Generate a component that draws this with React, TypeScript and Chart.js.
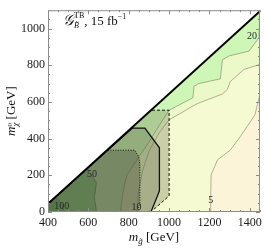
import React, { useEffect, useRef } from "react";
import { Chart, registerables } from "chart.js";
Chart.register(...registerables);

// axis ranges and ticks
const X_MIN = 400;
const X_MAX = 1450;
const Y_MIN = 0;
const Y_MAX = 1100;
const xTicks = [400, 600, 800, 1000, 1200, 1400];
const yTicks = [0, 200, 400, 600, 800, 1000];

// kinematic boundary (m_chi = m_gluino - 2 m_top)
const diagX = [400, 1450];
const diagY = [45, 1095];

// significance contours
const c5X = [1206, 1206, 1208, 1240, 1303, 1352, 1425, 1450];
const c5Y = [0, 78, 202, 285, 337, 410, 529, 643];

const c10X = [840, 850, 870, 900, 950, 1000, 1060, 1123, 1142, 1264, 1289, 1303, 1372, 1450];
const c10Y = [0, 120, 230, 330, 430, 503, 540, 581, 592, 643, 669, 711, 778, 804];

const c20X = [760, 770, 790, 850, 900, 950, 1000, 1045, 1118, 1123, 1147, 1254, 1264, 1298, 1396, 1445, 1450];
const c20Y = [0, 100, 200, 300, 380, 470, 555, 581, 623, 685, 700, 726, 830, 851, 877, 950, 1085];

const c50X = [640, 630, 640, 595];
const c50Y = [0, 80, 160, 235];

const c100X = [480, 470, 440];
const c100Y = [0, 40, 80];

// excluded regions
const dashedX = [915, 1000, 1000, 925];
const dashedY = [555, 555, 88, 15];
const dashedFillX = [400, 915, 1000, 1000, 925, 905, 400];
const dashedFillY = [45, 555, 555, 88, 15, 0, 0];

const solidX = [400, 817, 880, 952, 952, 910, 400, 400];
const solidY = [45, 457, 457, 350, 115, 0, 0, 45];

const dottedX = [697, 830, 850, 855, 855, 845];
const dottedY = [337, 337, 300, 260, 50, 0];
const dottedFillX = [400, 697, 830, 850, 855, 855, 845, 400];
const dottedFillY = [45, 337, 337, 300, 260, 50, 0, 0];

// contour labels
const labelText = ["20", "5", "10", "50", "100"];
const labelX = [1411, 1206, 839, 618, 468];
const labelY = [955, 62, 26, 205, 31];

const pts = (xs: number[], ys: number[]) => xs.map((x, i) => ({ x, y: ys[i] }));

// region left/above a contour which starts at the bottom edge
const regionFromBottom = (xs: number[], ys: number[], toCorner: boolean) => {
  const p = [{ x: X_MIN, y: 0 }, ...pts(xs, ys)];
  if (toCorner) p.push({ x: diagX[1], y: diagY[1] });
  p.push({ x: diagX[0], y: diagY[0] });
  return p;
};

const fillDs = (data: any[], color: string) => ({
  data,
  showLine: true,
  fill: "shape",
  backgroundColor: color,
  borderColor: "transparent",
  borderWidth: 0,
  pointRadius: 0,
  tension: 0,
});

const lineDs = (data: any[], color: string, width: number, dash: number[] = []) => ({
  data,
  showLine: true,
  fill: false,
  borderColor: color,
  borderWidth: width,
  borderDash: dash,
  pointRadius: 0,
  tension: 0,
});

const SERIF = "'Liberation Serif', 'DejaVu Serif', serif";

const drawRich = (ctx: CanvasRenderingContext2D, x: number, y: number, parts: any[]) => {
  let cx = x;
  let lastX = x;
  for (const p of parts) {
    ctx.font = p.font;
    const startX = p.sameX ? lastX : cx;
    ctx.fillText(p.t, startX, y + (p.dy || 0));
    const w = ctx.measureText(p.t).width;
    if (!p.sameX) lastX = cx;
    cx = Math.max(cx, startX + w);
  }
  return cx - x;
};

const measureRich = (ctx: CanvasRenderingContext2D, parts: any[]) => {
  let cx = 0;
  let lastX = 0;
  for (const p of parts) {
    ctx.font = p.font;
    const startX = p.sameX ? lastX : cx;
    const w = ctx.measureText(p.t).width;
    if (!p.sameX) lastX = cx;
    cx = Math.max(cx, startX + w);
  }
  return cx;
};

const decorPlugin = {
  id: "decor",
  afterDraw(chart: any) {
    const { ctx, chartArea: a, scales } = chart;
    const xs = scales.x;
    const ys = scales.y;
    ctx.save();
    // frame
    ctx.strokeStyle = "#8c8c8c";
    ctx.lineWidth = 1;
    ctx.strokeRect(a.left + 0.5, a.top + 0.5, a.right - a.left - 1, a.bottom - a.top - 1);
    // ticks inward
    ctx.beginPath();
    for (let v = X_MIN; v <= X_MAX; v += 50) {
      const px = Math.round(xs.getPixelForValue(v)) + 0.5;
      const len = v % 200 === 0 ? 4 : 2;
      ctx.moveTo(px, a.bottom);
      ctx.lineTo(px, a.bottom - len);
      ctx.moveTo(px, a.top);
      ctx.lineTo(px, a.top + len);
    }
    for (let v = Y_MIN; v <= Y_MAX; v += 50) {
      const py = Math.round(ys.getPixelForValue(v)) + 0.5;
      const len = v % 200 === 0 ? 4 : 2;
      ctx.moveTo(a.left, py);
      ctx.lineTo(a.left + len, py);
      ctx.moveTo(a.right, py);
      ctx.lineTo(a.right - len, py);
    }
    ctx.stroke();

    // contour labels
    ctx.fillStyle = "#2a2a2a";
    ctx.textAlign = "center";
    ctx.textBaseline = "middle";
    ctx.font = `10px ${SERIF}`;
    labelText.forEach((t, i) => {
      ctx.fillText(t, xs.getPixelForValue(labelX[i]), ys.getPixelForValue(labelY[i]));
    });

    // annotation
    ctx.textAlign = "left";
    ctx.textBaseline = "alphabetic";
    ctx.fillStyle = "#111";
    drawRich(ctx, 63, 25, [
      { t: "𝒢", font: `italic 15px ${SERIF}` },
      { t: "B̃", font: `italic 8px ${SERIF}`, dy: 3 },
      { t: "TB", font: `8px ${SERIF}`, dy: -7, sameX: true },
      { t: ", 15 fb", font: `13px ${SERIF}` },
      { t: "−1", font: `8px ${SERIF}`, dy: -6 },
    ]);

    // x axis title
    const xParts = [
      { t: "m", font: `italic 13px ${SERIF}` },
      { t: "g̃", font: `italic 9px ${SERIF}`, dy: 3 },
      { t: " [GeV]", font: `13px ${SERIF}` },
    ];
    const xw = measureRich(ctx, xParts);
    drawRich(ctx, (a.left + a.right) / 2 - xw / 2, 241, xParts);

    // y axis title
    const yParts = [
      { t: "m", font: `italic 13px ${SERIF}` },
      { t: "χ", font: `italic 9px ${SERIF}`, dy: 3 },
      { t: "0", font: `7px ${SERIF}`, dy: -3, sameX: true },
      { t: " [GeV]", font: `13px ${SERIF}` },
    ];
    const yw = measureRich(ctx, yParts);
    ctx.translate(15, (a.top + a.bottom) / 2);
    ctx.rotate(-Math.PI / 2);
    drawRich(ctx, -yw / 2, 0, yParts);
    ctx.restore();
  },
};

export default function App() {
  const ref = useRef<HTMLCanvasElement | null>(null);
  useEffect(() => {
    if (!ref.current) return;
    const datasets: any[] = [
      fillDs(pts([400, 1450, 1450, 400], [0, 0, 1095, 45]), "#fcf4d9"),
      fillDs(regionFromBottom(c5X, c5Y, true), "#f6fad3"),
      fillDs(regionFromBottom(c10X, c10Y, true), "#ebf8c8"),
      fillDs(regionFromBottom(c20X, c20Y, true), "#cdf6b7"),
      fillDs(regionFromBottom(c50X, c50Y, false), "#8cd884"),
      fillDs(regionFromBottom(c100X, c100Y, false), "#68c066"),
      lineDs(pts(c5X, c5Y), "rgba(120,120,95,0.7)", 0.8),
      lineDs(pts(c10X, c10Y), "rgba(120,120,95,0.7)", 0.8),
      lineDs(pts(c20X, c20Y), "rgba(120,120,95,0.7)", 0.8),
      lineDs(pts(c50X, c50Y), "rgba(60,70,50,0.7)", 0.8),
      lineDs(pts(c100X, c100Y), "rgba(60,70,50,0.7)", 0.8),
      fillDs(pts(dashedFillX, dashedFillY), "rgba(100,110,70,0.3)"),
      fillDs(pts(solidX, solidY), "rgba(90,100,70,0.3)"),
      fillDs(pts(dottedFillX, dottedFillY), "rgba(60,60,50,0.32)"),
      lineDs(pts(dashedX, dashedY), "#111", 1, [3, 2]),
      lineDs(pts(dottedX, dottedY), "#111", 1, [1, 1.5]),
      lineDs(pts(solidX, solidY), "#111", 1.3),
      lineDs(pts(diagX, diagY), "#000", 2),
    ];
    const N = datasets.length;
    datasets.forEach((d, i) => (d.order = N - i));

    const tickFont = { family: SERIF, size: 12 };
    const chart = new Chart(ref.current, {
      type: "scatter",
      data: { datasets },
      plugins: [decorPlugin],
      options: {
        animation: false,
        responsive: false,
        layout: { padding: { left: 0, right: 3, top: 1, bottom: 0 } },
        plugins: { legend: { display: false }, tooltip: { enabled: false } },
        scales: {
          x: {
            type: "linear",
            min: X_MIN,
            max: X_MAX,
            grid: { display: false, drawTicks: false },
            border: { display: false },
            afterBuildTicks: (s: any) => {
              s.ticks = xTicks.map((v) => ({ value: v }));
            },
            afterFit: (s: any) => {
              s.height = 37;
            },
            ticks: {
              autoSkip: false,
              maxRotation: 0,
              padding: 4,
              color: "#1a1a1a",
              font: tickFont,
              callback: (v: any) => String(v),
            },
          },
          y: {
            type: "linear",
            min: Y_MIN,
            max: Y_MAX,
            grid: { display: false, drawTicks: false },
            border: { display: false },
            afterBuildTicks: (s: any) => {
              s.ticks = yTicks.map((v) => ({ value: v }));
            },
            afterFit: (s: any) => {
              s.width = 48;
            },
            ticks: {
              autoSkip: false,
              padding: 3,
              color: "#1a1a1a",
              font: tickFont,
              callback: (v: any) => String(v),
            },
          },
        },
      } as any,
    });
    return () => chart.destroy();
  }, []);
  return (
    <div style={{ position: "fixed", left: 0, top: 0, width: 266, height: 249, background: "#fff" }}>
      <canvas ref={ref} width={266} height={249} style={{ display: "block" }} />
    </div>
  );
}
